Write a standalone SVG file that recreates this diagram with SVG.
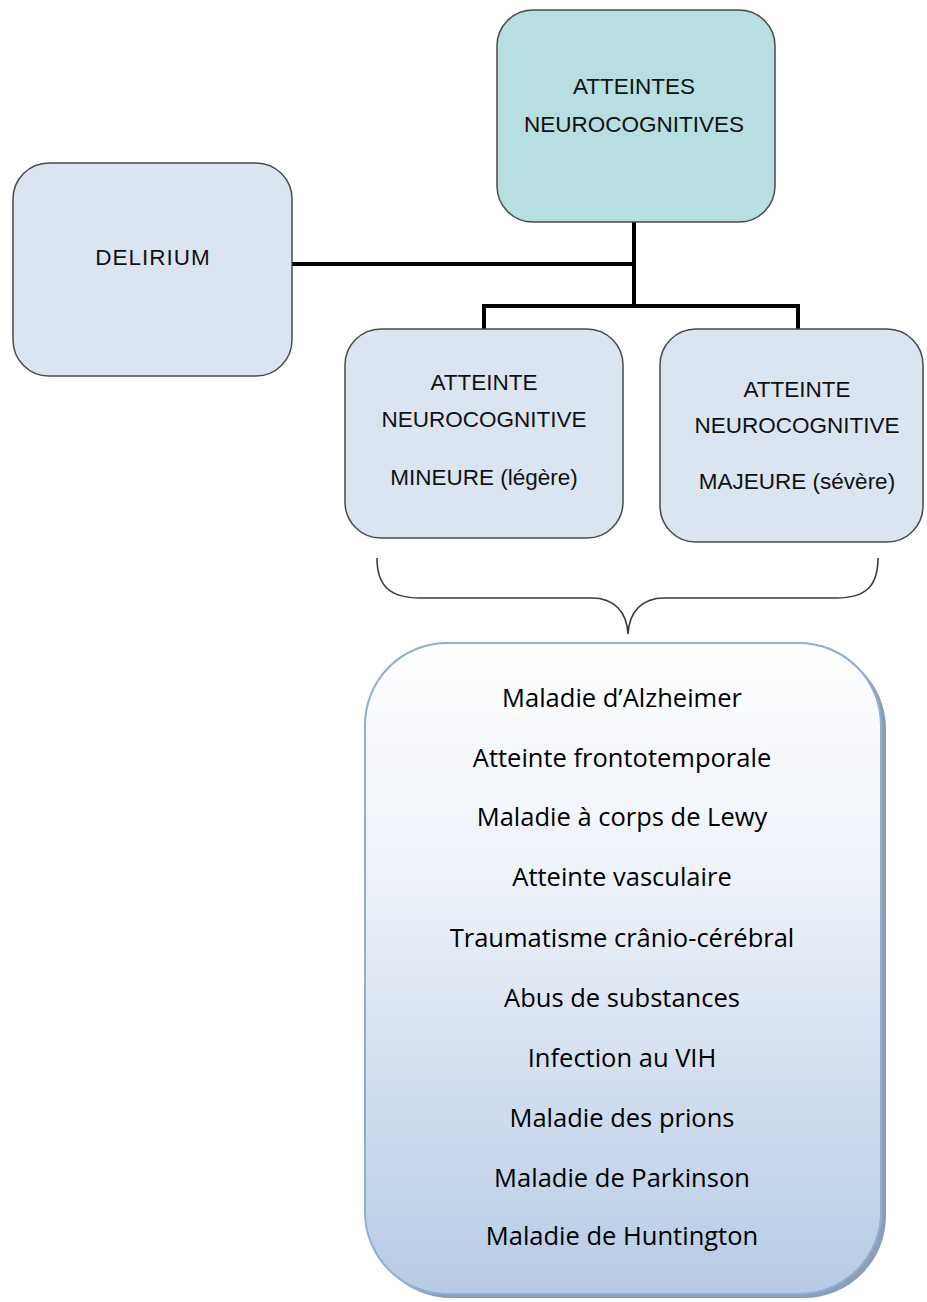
<svg xmlns="http://www.w3.org/2000/svg" width="927" height="1302" viewBox="0 0 927 1302">
<defs>
<linearGradient id="listGrad" x1="0" y1="0" x2="0" y2="1">
<stop offset="0" stop-color="#ffffff"/>
<stop offset="0.35" stop-color="#eef2f9"/>
<stop offset="1" stop-color="#b7cbe4"/>
</linearGradient>
<style>
.box{stroke:#4a4a4a;stroke-width:1.5}
.blue{fill:#dbe5f1}
.teal{fill:#b7dee0}
.lbl{font-family:"Liberation Sans",Arial,sans-serif;font-size:22.5px;fill:#111;text-anchor:middle}
.item{font-family:"Open Sans","Liberation Sans",sans-serif;font-size:25.5px;fill:#000;text-anchor:middle}
.conn{fill:none;stroke:#000;stroke-width:4}
.brace{fill:none;stroke:#3a3a3a;stroke-width:1.6}
</style>
</defs>
<rect width="927" height="1302" fill="#ffffff"/>
<g id="connectors">
<path class="conn" d="M634,222 V306"/>
<path class="conn" d="M292,264 H634"/>
<path class="conn" d="M484,329 V306 H798 V329"/>
</g>
<g id="node-atteintes">
<rect class="box teal" x="497" y="10" width="278" height="212" rx="36" ry="36"/>
<text class="lbl" x="634" y="94">ATTEINTES</text>
<text class="lbl" x="634" y="132">NEUROCOGNITIVES</text>
</g>
<g id="node-delirium">
<rect class="box blue" x="13" y="163" width="279" height="213" rx="36" ry="36"/>
<text class="lbl" x="153" y="265" letter-spacing="1">DELIRIUM</text>
</g>
<g id="node-mineure">
<rect class="box blue" x="345" y="329" width="278" height="209" rx="36" ry="36"/>
<text class="lbl" x="484" y="390">ATTEINTE</text>
<text class="lbl" x="484" y="427">NEUROCOGNITIVE</text>
<text class="lbl" x="484" y="485">MINEURE (légère)</text>
</g>
<g id="node-majeure">
<rect class="box blue" x="660" y="329" width="263" height="213" rx="36" ry="36"/>
<text class="lbl" x="797" y="397">ATTEINTE</text>
<text class="lbl" x="797" y="433">NEUROCOGNITIVE</text>
<text class="lbl" x="797" y="489">MAJEURE (sévère)</text>
</g>
<g id="brace">
<path class="brace" d="M377,558 C377,586 390,598 420,598 L592,598 C614,598 627,612 628,634 C629,612 642,598 664,598 L836,598 C866,598 878,586 878,558"/>
</g>
<g id="node-list">
<rect x="369" y="647" width="517" height="651" rx="82" ry="82" fill="#8c9db4"/>
<rect x="365" y="643" width="516" height="651" rx="82" ry="82" fill="url(#listGrad)" stroke="#8eaed6" stroke-width="2"/>
<text class="item" x="622" y="707">Maladie d’Alzheimer</text>
<text class="item" x="622" y="767">Atteinte frontotemporale</text>
<text class="item" x="622" y="826">Maladie à corps de Lewy</text>
<text class="item" x="622" y="886">Atteinte vasculaire</text>
<text class="item" x="622" y="947">Traumatisme crânio-cérébral</text>
<text class="item" x="622" y="1007">Abus de substances</text>
<text class="item" x="622" y="1067">Infection au VIH</text>
<text class="item" x="622" y="1127">Maladie des prions</text>
<text class="item" x="622" y="1187">Maladie de Parkinson</text>
<text class="item" x="622" y="1245">Maladie de Huntington</text>
</g>
</svg>
